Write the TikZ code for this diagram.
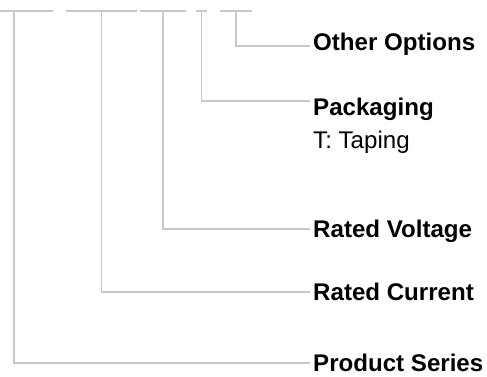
\documentclass[tikz,border=0pt]{standalone}
\usepackage{fontspec}
\setmainfont{Liberation Sans}
\usepackage{tikz}
\usetikzlibrary{positioning}
\definecolor{leadgray}{HTML}{C8C8C8}
\tikzstyle{slot} = [inner sep = 0pt, minimum height = 0pt]
\tikzstyle{lead} = [draw = leadgray, line width = 1.8pt]
\tikzstyle{label} = [inner xsep = 3pt, inner ysep = 0pt, text height = 17pt, text depth = 1pt, font = \fontsize{24.1}{28}\selectfont\bfseries]
\tikzstyle{note} = [inner sep = 0pt, font = \fontsize{24.1}{28}\selectfont]

\begin{document}
\begin{tikzpicture}[x = 1pt, y = -1pt]
            \useasboundingbox [fill = white] (0, 0) rectangle (487, 376);
            \node (s1) at (14, 11) [slot, minimum width = 78pt] {};
            \node (s2) at (101.5, 11) [slot, minimum width = 71pt] {};
            \node (s3) at (163, 11) [slot, minimum width = 46pt] {};
            \node (s4) at (201.5, 11) [slot, minimum width = 11pt] {};
            \node (s5) at (236, 11) [slot, minimum width = 31pt] {};
            \node (oo) at (310, 42) [label, anchor = west] {Other Options};
            \node (pk) at (310, 115) [label, anchor = base west] {Packaging};
            \node (tp) at ([yshift = -33pt, xshift = 3pt] pk.base west) [note, anchor = base west] {T: Taping};
            \node (rv) at (310, 229) [label, anchor = west] {Rated Voltage};
            \node (rc) at (310, 292) [label, anchor = west] {Rated Current};
            \node (ps) at (310, 363) [label, anchor = west] {Product Series};
            \draw [lead] (s1.west) -- (s1.east);
            \draw [lead] (s2.west) -- (s2.east);
            \draw [lead] (s3.west) -- (s3.east);
            \draw [lead] (s4.west) -- (s4.east);
            \draw [lead] (s5.west) -- (s5.east);
            \draw [lead] (s5.center) |- ([yshift = -4pt] oo.west);
            \draw [lead] (s4.center) |- ([yshift = -3pt] pk.north west);
            \draw [lead] (s3.center) |- (rv.west);
            \draw [lead] (s2.center) |- (rc.west);
            \draw [lead] (s1.center) |- (ps.west);
        \end{tikzpicture}
\end{document}
